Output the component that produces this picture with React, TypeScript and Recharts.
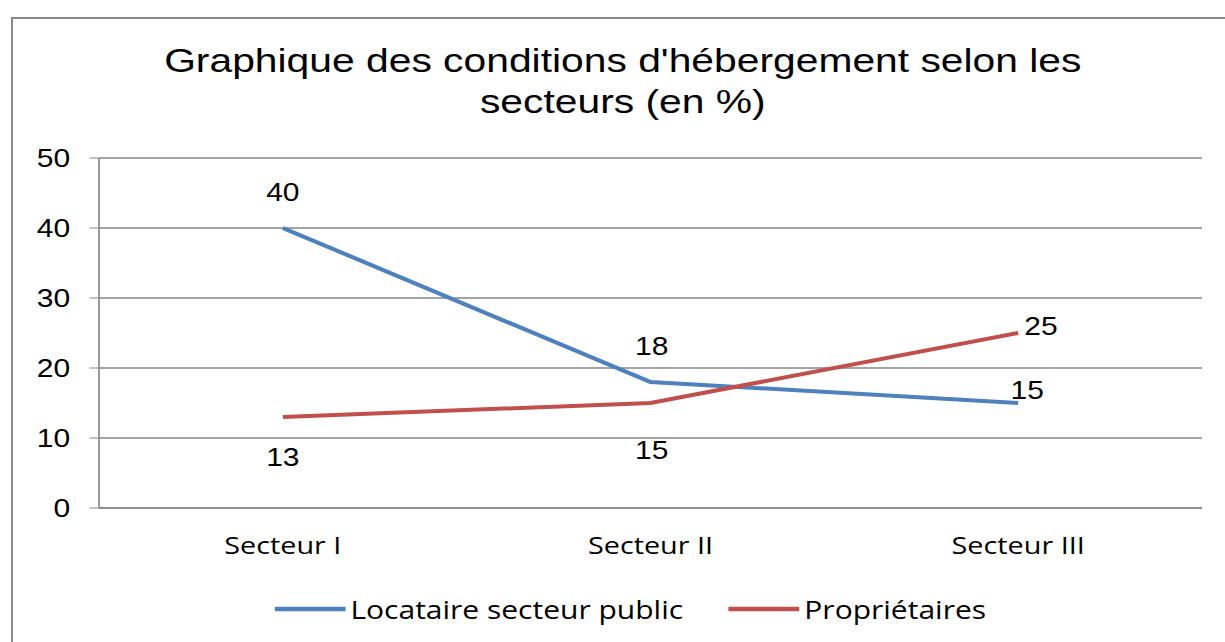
import React from "react";
import {
  LineChart,
  Line,
  XAxis,
  YAxis,
  CartesianGrid,
  Legend,
  LabelList,
} from "recharts";

const categories = ["Secteur I", "Secteur II", "Secteur III"];
const locataireValues = [40, 18, 15];
const proprietaireValues = [13, 15, 25];
const yTicks = [0, 10, 20, 30, 40, 50];
const seriesNames = ["Locataire secteur public", "Propriétaires"];
const titleLines = ["Graphique des conditions d'hébergement selon les", "secteurs (en %)"];

// the source picture is stretched sideways, so the whole chart is drawn narrow and scaled
const STRETCH = 1.2;
const W = 1225 / STRETCH;
const H = 642;

const BLUE = "#4f81bd";
const RED = "#c0504d";
const GRID = "#868686";
const ARIAL = "'Liberation Sans', Arial, sans-serif";
const CALIBRI = "'Open Sans', 'Noto Sans', sans-serif";

// label nudges (dx, dy) per point, as placed in the original
const labelOffsets: Record<string, number[][]> = {
  locataire: [[0, -36], [1, -36], [7.5, -13]],
  proprietaires: [[0, 40], [1, 47], [19, -7]],
};

const data = categories.map((secteur, i) => ({
  secteur,
  locataire: locataireValues[i],
  proprietaires: proprietaireValues[i],
}));

const edgeTicks = categories.map((_, i) => i).concat(categories.length);

function makeLabel(key: string) {
  return (props: any) => {
    const { index, value } = props;
    const x = props.viewBox?.x ?? props.x;
    const y = props.viewBox?.y ?? props.y;
    const [dx, dy] = labelOffsets[key][index] || [0, 0];
    return (
      <text
        x={x + dx}
        y={y + dy}
        dy="0.36em"
        textAnchor="middle"
        fontFamily={ARIAL}
        fontSize={25}
        fill="#000"
      >
        {value}
      </text>
    );
  };
}

function LegendBox() {
  const items = [
    { name: seriesNames[0], color: BLUE },
    { name: seriesNames[1], color: RED },
  ];
  return (
    <div style={{ display: "flex", alignItems: "center", gap: 38 }}>
      {items.map((it) => (
        <div key={it.name} style={{ display: "flex", alignItems: "center" }}>
          <svg width={59} height={6}>
            <line x1={1} y1={3} x2={58} y2={3} stroke={it.color} strokeWidth={4.5} strokeLinecap="round" />
          </svg>
          <span
            style={{
              marginLeft: 4,
              fontFamily: CALIBRI,
              fontSize: 25,
              lineHeight: "30px",
              color: "#000",
              whiteSpace: "nowrap",
            }}
          >
            {it.name}
          </span>
        </div>
      ))}
    </div>
  );
}

export default function App() {
  return (
    <div
      style={{
        position: "absolute",
        left: 0,
        top: 0,
        width: 1225,
        height: 642,
        background: "#fff",
        overflow: "hidden",
      }}
    >
      <div
        style={{
          position: "absolute",
          left: 11,
          top: 17,
          width: 1300,
          height: 700,
          borderLeft: "2px solid #8a8a8a",
          borderTop: "2px solid #8a8a8a",
        }}
      />
      <div
        style={{
          position: "absolute",
          left: 0,
          top: 0,
          width: W,
          height: H,
          transform: `scaleX(${STRETCH})`,
          transformOrigin: "0 0",
        }}
      >
        <div
          style={{
            position: "absolute",
            left: 0,
            top: 40,
            width: 1038,
            textAlign: "center",
            fontFamily: ARIAL,
            fontSize: 34,
            lineHeight: "41px",
            color: "#000",
            whiteSpace: "nowrap",
          }}
        >
          {titleLines.map((t) => (
            <div key={t}>{t}</div>
          ))}
        </div>
        <LineChart
          width={W}
          height={H}
          data={data}
          margin={{ top: 158, right: W - 1001.7, bottom: 74, left: 0 }}
        >
          <CartesianGrid vertical={false} stroke={GRID} strokeWidth={1.4} />
          <XAxis
            xAxisId="edges"
            type="number"
            domain={[0, categories.length]}
            ticks={edgeTicks}
            allowDataOverflow
            height={0}
            axisLine={false}
            tickSize={9}
            tickFormatter={() => ""}
            stroke={GRID}
          />
          <XAxis
            dataKey="secteur"
            scale="band"
            height={60}
            tickLine={false}
            tickSize={0}
            tickMargin={29}
            axisLine={{ stroke: GRID, strokeWidth: 1.4 }}
            tick={{ fontFamily: CALIBRI, fontSize: 24, fill: "#000" }}
          />
          <YAxis
            domain={[0, 50]}
            ticks={yTicks}
            width={82.5}
            tickSize={8}
            tickMargin={16}
            stroke={GRID}
            axisLine={{ stroke: GRID, strokeWidth: 1.4 }}
            tick={{ fontFamily: ARIAL, fontSize: 25, fill: "#000" }}
          />
          <Legend
            verticalAlign="middle"
            align="center"
            layout="horizontal"
            content={() => <LegendBox />}
            wrapperStyle={{ top: 594, left: 229, width: "auto" }}
          />
          <Line
            dataKey="locataire"
            name={seriesNames[0]}
            stroke={BLUE}
            strokeWidth={4}
            dot={false}
            activeDot={false}
            isAnimationActive={false}
          >
            <LabelList dataKey="locataire" content={makeLabel("locataire")} />
          </Line>
          <Line
            dataKey="proprietaires"
            name={seriesNames[1]}
            stroke={RED}
            strokeWidth={4}
            dot={false}
            activeDot={false}
            isAnimationActive={false}
          >
            <LabelList dataKey="proprietaires" content={makeLabel("proprietaires")} />
          </Line>
        </LineChart>
      </div>
    </div>
  );
}
